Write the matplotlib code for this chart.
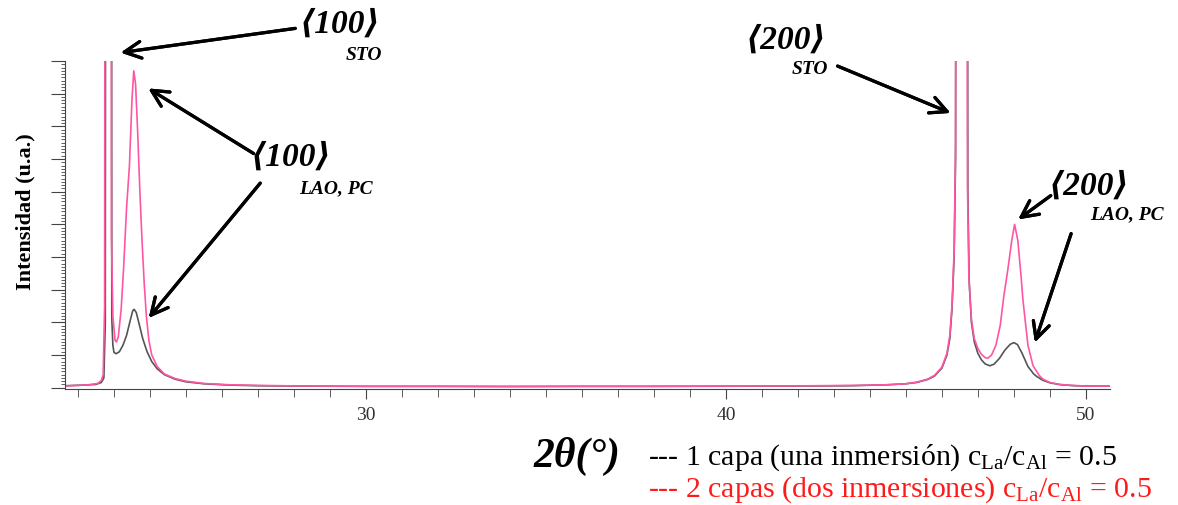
import matplotlib
matplotlib.use('Agg')
import matplotlib.pyplot as plt
from matplotlib.ticker import MultipleLocator

# difractograma (2theta en grados, intensidad en % de la escala)
two_theta_1 = [21.64, 21.9, 22.2, 22.5, 22.65, 22.72, 22.76, 22.78, 22.92, 22.94, 22.97,
               23.0, 23.06, 23.15, 23.25, 23.35, 23.45, 23.52, 23.56, 23.62, 23.7, 23.8,
               23.92, 24.05, 24.2, 24.4, 24.7, 25.0, 25.5, 26.2, 27.0, 28.0, 30.0, 32.0,
               34.0, 36.0, 38.0, 40.0, 42.0, 43.5, 44.5, 45.0, 45.3, 45.6, 45.8, 46.0,
               46.14, 46.22, 46.28, 46.34, 46.38, 46.42, 46.69, 46.72, 46.76, 46.82, 46.9,
               47.0, 47.1, 47.2, 47.33, 47.45, 47.6, 47.75, 47.9, 48.0, 48.1, 48.22,
               48.39, 48.55, 48.64, 48.8, 49.0, 49.3, 49.7, 50.2, 50.67]
intens_1 = [0.6, 0.7, 0.8, 1.0, 1.6, 3, 20, 400, 400, 21, 13,
            10.8, 10.4, 11, 13, 16, 20.5, 23.5, 24, 23, 19.5, 15,
            11, 8, 5.8, 4, 2.6, 1.8, 1.2, 0.8, 0.6, 0.5, 0.4, 0.4,
            0.35, 0.4, 0.4, 0.45, 0.5, 0.6, 0.9, 1.2, 1.6, 2.5, 3.6, 6,
            10, 15, 24, 40, 70, 400, 400, 60, 32, 20, 14,
            10.5, 8.5, 7.3, 6.7, 7.2, 9, 11.5, 13.3, 13.8, 13.2, 10.7,
            6.5, 4.2, 3.4, 2.3, 1.5, 0.9, 0.6, 0.5, 0.5]

two_theta_2 = [21.64, 22.0, 22.3, 22.55, 22.65, 22.7, 22.74, 22.77, 22.92, 22.93, 22.97,
               23.03, 23.07, 23.12, 23.2, 23.27, 23.35, 23.43, 23.5, 23.55, 23.6, 23.66,
               23.72, 23.78, 23.84, 23.9, 23.97, 24.05, 24.2, 24.4, 24.7, 25.0, 25.5,
               26.2, 27.0, 28.0, 30.0, 32.0, 34.0, 36.0, 38.0, 40.0, 42.0, 43.5, 44.5,
               45.0, 45.3, 45.6, 45.8, 46.0, 46.14, 46.22, 46.28, 46.34, 46.38, 46.41,
               46.68, 46.71, 46.75, 46.82, 46.9, 47.0, 47.1, 47.2, 47.27, 47.38, 47.5,
               47.62, 47.72, 47.83, 47.94, 48.02, 48.11, 48.2, 48.25, 48.32, 48.39,
               48.53, 48.7, 48.81, 49.0, 49.28, 49.6, 50.0, 50.67]
intens_2 = [0.5, 0.7, 0.9, 1.3, 2.2, 4, 25, 400, 400, 46, 22,
            14.5, 14, 15.5, 24, 37, 55, 68, 88, 97, 93, 78,
            60, 45, 32, 22, 14.5, 10, 6.5, 4.2, 2.8, 2.0, 1.3,
            0.9, 0.7, 0.55, 0.45, 0.45, 0.4, 0.45, 0.45, 0.5, 0.55, 0.7, 0.9,
            1.2, 1.7, 2.6, 3.8, 6.3, 10.5, 16, 25, 42, 75, 400,
            400, 62, 34, 21, 15, 12, 10.2, 9.2, 9, 10, 13,
            19, 28, 36, 45, 50, 45, 34, 27, 20, 13,
            6.8, 3.8, 2.6, 1.6, 1.0, 0.7, 0.5, 0.5]

xticks = [30, 40, 50]
legend_1 = '--- 1 capa (una inmersión) $\\mathregular{c_{La}/c_{Al}}$ = 0.5'
legend_2 = '--- 2 capas (dos inmersiones) $\\mathregular{c_{La}/c_{Al}}$ = 0.5'

plt.rcParams['font.family'] = ['Liberation Serif', 'DejaVu Serif', 'DejaVu Sans']
plt.rcParams['mathtext.fontset'] = 'custom'
plt.rcParams['mathtext.rm'] = 'Liberation Serif'

W, H = 1178, 506
fig = plt.figure(figsize=(W / 100, H / 100), dpi=100)
ax = fig.add_axes([65 / W, 1 - 390 / H, (1110 - 65) / W, (390 - 62) / H])


def px(x, y):
    # posicion en pixeles de la imagen -> fraccion de figura
    return (x / W, 1 - y / H)


ax.plot(two_theta_1, intens_1, color='#555555', lw=1.2)
ax.plot(two_theta_2, intens_2, color='#ff55a5', lw=1.2)

ax.set_xlim(21.64, 50.67)
ax.set_ylim(-0.4, 100)
for s in ['top', 'right']:
    ax.spines[s].set_visible(False)
ax.spines['left'].set_color('#444444')
ax.spines['bottom'].set_color('#444444')

ax.set_xticks(xticks)
ax.xaxis.set_minor_locator(MultipleLocator(1))
ax.tick_params(axis='x', which='major', length=7, color='#444444', labelsize=14,
               labelcolor='#333333', pad=5)
ax.tick_params(axis='x', which='minor', length=6, color='#444444')
ax.yaxis.set_major_locator(MultipleLocator(10))
ax.yaxis.set_minor_locator(MultipleLocator(1))
ax.tick_params(axis='y', which='major', length=10, color='#444444', labelleft=False)
ax.tick_params(axis='y', which='minor', length=3, color='#444444')

fig.text(*px(25, 212), 'Intensidad (u.a.)', rotation=90, ha='center', va='center',
         fontsize=16, fontweight='bold')
fig.text(*px(577, 456), '2θ(°)', ha='center', va='center', fontsize=30,
         fontweight='bold', fontstyle='italic')
fig.text(*px(648, 458), legend_1, ha='left', va='center', fontsize=21.5, color='black')
fig.text(*px(648, 490), legend_2, ha='left', va='center', fontsize=21.5, color='#ff1a1a')

big = dict(fontsize=24, fontweight='bold', fontstyle='italic', ha='center', va='center',
           family=['Liberation Serif', 'DejaVu Serif', 'DejaVu Sans'])
small = dict(fontsize=14, fontweight='bold', fontstyle='italic', ha='center', va='center')
arrow = dict(arrowstyle='->', lw=2.3, color='black', mutation_scale=30)

fig.text(*px(340, 24), '⟨100⟩', **big)
fig.text(*px(364, 55), 'STO', **small)
fig.text(*px(291, 157), '⟨100⟩', **big)
fig.text(*px(336, 189), 'LAO, PC', **small)
fig.text(*px(786, 40), '⟨200⟩', **big)
fig.text(*px(810, 70), 'STO', **small)
fig.text(*px(1089, 186), '⟨200⟩', **big)
fig.text(*px(1127, 215), 'LAO, PC', **small)

arrows = [((298, 29), (118, 54)), ((256, 156), (146, 88)), ((262, 182), (147, 321)),
          ((835, 66), (953, 115)), ((1053, 195), (1016, 222)), ((1072, 232), (1034, 346))]
for start, end in arrows:
    fig.add_artist(plt.annotate('', xy=px(*end), xytext=px(*start),
                                xycoords='figure fraction', textcoords='figure fraction',
                                arrowprops=arrow))

fig.savefig('out.png', dpi=100)
